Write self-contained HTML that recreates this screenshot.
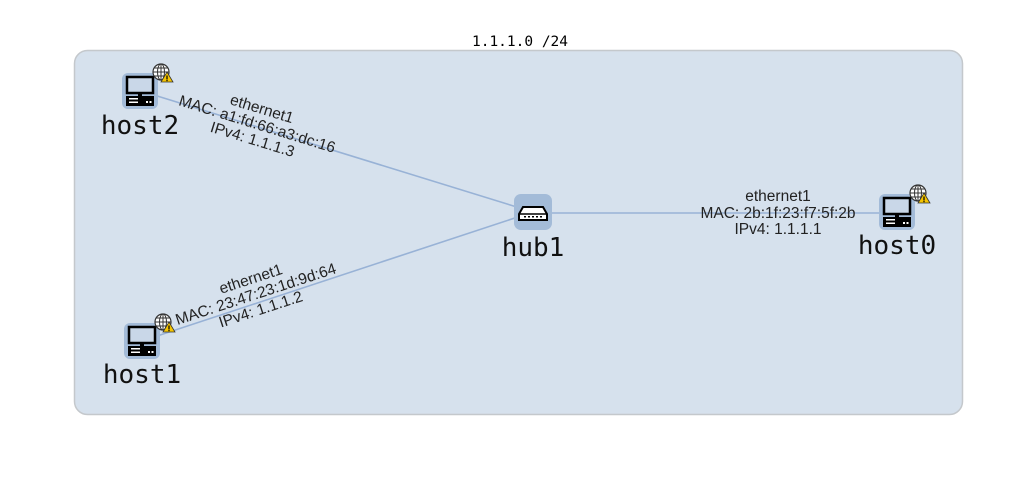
<!DOCTYPE html>
<html><head><meta charset="utf-8"><style>
html,body{margin:0;padding:0;background:#fff;width:1029px;height:500px;overflow:hidden}
svg text{font-family:"Liberation Sans",sans-serif}
svg text.mono{font-family:"DejaVu Sans Mono","Liberation Mono",monospace}
</style></head><body>
<svg width="1029" height="500" xmlns="http://www.w3.org/2000/svg">
<defs>
<g id="host">
 <rect x="-18" y="-18" width="36" height="36" rx="6" fill="#a3bbd8"/>
 <rect x="-13" y="-14" width="26" height="16" fill="#c9d7e8" stroke="#000" stroke-width="2.5"/>
 <rect x="-2" y="2" width="4" height="3" fill="#000"/>
 <rect x="-14" y="5" width="28" height="10" fill="#000"/>
 <rect x="-11" y="7" width="9" height="1.5" fill="#fff"/>
 <rect x="-11" y="10.5" width="9" height="1.5" fill="#fff"/>
 <rect x="6" y="10" width="2" height="2" fill="#fff"/>
 <rect x="9.5" y="10" width="2" height="2" fill="#fff"/>
 <g transform="translate(21,-19)">
  <circle r="8" fill="#fff" stroke="#333" stroke-width="1.2"/>
  <ellipse rx="3.5" ry="8" fill="none" stroke="#333" stroke-width="1"/>
  <line x1="-8" y1="0" x2="8" y2="0" stroke="#333"/>
  <line x1="-7" y1="-4" x2="7" y2="-4" stroke="#333"/>
  <line x1="-7" y1="4" x2="7" y2="4" stroke="#333"/>
  <line x1="0" y1="-8" x2="0" y2="8" stroke="#333"/>
  <polygon points="6,0 12,10 0,10" fill="#f5c400" stroke="#333" stroke-width="0.8"/>
  <rect x="5.4" y="3.5" width="1.2" height="4" fill="#000"/>
  <rect x="5.4" y="8" width="1.2" height="1.2" fill="#000"/>
 </g>
</g>
</defs>
<text x="520" y="46" class="mono" font-size="14.5" text-anchor="middle" fill="#000">1.1.1.0 /24</text>
<rect x="74.5" y="50.5" width="888" height="364" rx="13" fill="#d6e1ed" stroke="#c4c8cc" stroke-width="1.5"/>
<g stroke="#98b2d6" stroke-width="1.6">
 <line x1="141" y1="91" x2="533" y2="212"/>
 <line x1="142" y1="341" x2="533" y2="212"/>
 <line x1="533" y1="213" x2="897" y2="213"/>
</g>
<g font-size="15.5" fill="#222" text-anchor="middle">
 <g transform="translate(256,128) rotate(17.1)">
  <text y="-15">ethernet1</text><text y="1">MAC: a1:fd:66:a3:dc:16</text><text y="17">IPv4: 1.1.1.3</text>
 </g>
 <g transform="translate(257,298) rotate(-18.1)">
  <text y="-15">ethernet1</text><text y="1">MAC: 23:47:23:1d:9d:64</text><text y="17">IPv4: 1.1.1.2</text>
 </g>
 <text x="778" y="201">ethernet1</text>
 <text x="778" y="218">MAC: 2b:1f:23:f7:5f:2b</text>
 <text x="778" y="234">IPv4: 1.1.1.1</text>
</g>
<use href="#host" x="140" y="91"/>
<use href="#host" x="142" y="341"/>
<use href="#host" x="897" y="212"/>
<g transform="translate(533,212)">
 <rect x="-19" y="-18" width="38" height="36" rx="7" fill="#a3bbd8"/>
 <path d="M-10,-5 L10,-5 L14,2 L14,8 L-14,8 L-14,2 Z" fill="#fff" stroke="#000" stroke-width="2"/>
 <line x1="-14" y1="2" x2="14" y2="2" stroke="#000" stroke-width="1.5"/>
 <g fill="#000"><rect x="-9" y="4" width="2" height="1.5"/><rect x="-5" y="4" width="2" height="1.5"/><rect x="-1" y="4" width="2" height="1.5"/><rect x="3" y="4" width="2" height="1.5"/><rect x="7" y="4" width="2" height="1.5"/></g>
</g>
<g font-size="26" fill="#111" text-anchor="middle">
 <text class="mono" x="140" y="134">host2</text>
 <text class="mono" x="142" y="383">host1</text>
 <text class="mono" x="533" y="256">hub1</text>
 <text class="mono" x="897" y="254">host0</text>
</g>
</svg>
</body></html>
